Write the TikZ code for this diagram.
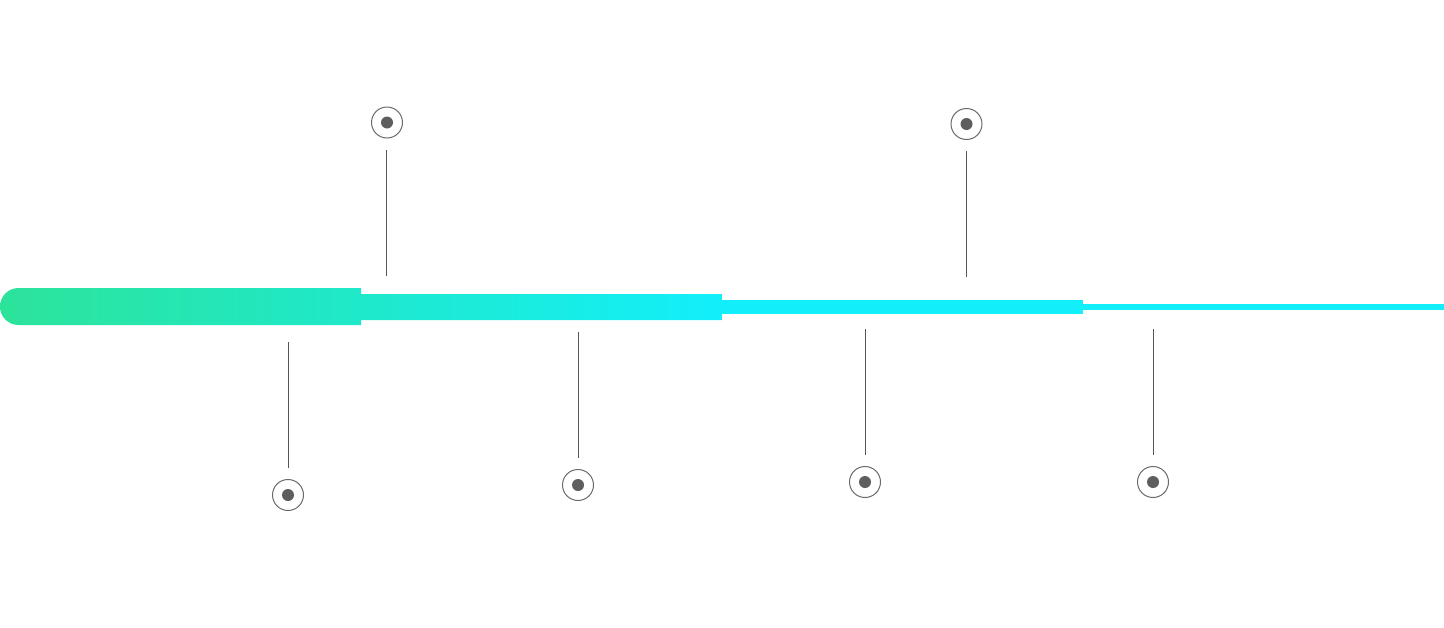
\documentclass[tikz,border=0pt]{standalone}
\usetikzlibrary{shadings}
\definecolor{barcyan}{HTML}{12EFFB}
\definecolor{bargreen}{HTML}{2CE39A}
\definecolor{linegray}{HTML}{555555}
\definecolor{ringgray}{HTML}{6A6A6A}
\definecolor{dotgray}{HTML}{5E5E5E}
\begin{document}
\begin{tikzpicture}[x=1pt,y=-1pt,
  ring/.style={circle,draw=ringgray,line width=1pt,minimum size=31pt,inner sep=0pt,
    path picture={\fill[dotgray] (path picture bounding box.center) circle[radius=6pt];}},
  stem/.style={draw=linegray,line width=1pt}]
\useasboundingbox (0,0) rectangle (1444,627);
% bars
\shade[left color=bargreen,right color=barcyan]
  (18.5,288) -- (361,288) -- (361,294) -- (722,294) -- (722,320) -- (361,320) -- (361,325)
  -- (18.5,325) arc[start angle=270,end angle=90,radius=18.5pt] -- cycle;
\fill[barcyan] (722,300) rectangle (1083,314);
\fill[barcyan] (1083,304) rectangle (1444,310);
% markers
\node[ring] (t1) at (387,122.5) {};
\node[ring] (t2) at (966.5,124) {};
\node[ring] (b1) at (288,495) {};
\node[ring] (b2) at (578,485) {};
\node[ring] (b3) at (865,482) {};
\node[ring] (b4) at (1153,482) {};
% stem ends
\coordinate (t1a) at (386,150); \coordinate (t1b) at (386,276);
\coordinate (t2a) at (966,151); \coordinate (t2b) at (966,277);
\coordinate (b1a) at (288,342); \coordinate (b1b) at (288,468);
\coordinate (b2a) at (578,332); \coordinate (b2b) at (578,458);
\coordinate (b3a) at (865,329); \coordinate (b3b) at (865,455);
\coordinate (b4a) at (1153,329); \coordinate (b4b) at (1153,455);
\draw[stem] (t1a) -- (t1b);
\draw[stem] (t2a) -- (t2b);
\draw[stem] (b1a) -- (b1b);
\draw[stem] (b2a) -- (b2b);
\draw[stem] (b3a) -- (b3b);
\draw[stem] (b4a) -- (b4b);
\end{tikzpicture}
\end{document}
